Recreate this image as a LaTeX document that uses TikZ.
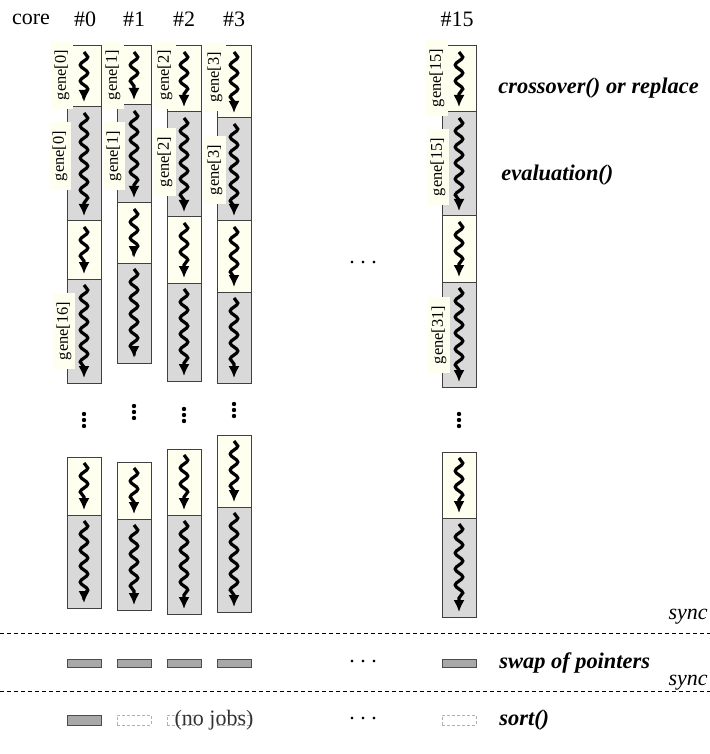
\documentclass[tikz,border=0pt]{standalone}
\usepackage{fontspec}
\setmainfont{Liberation Serif}
\usetikzlibrary{decorations.pathmorphing,arrows.meta}

\definecolor{creamfill}{HTML}{FFFFF0}
\definecolor{evalfill}{HTML}{D9D9D9}
\definecolor{swapfill}{HTML}{A8A8A8}
\definecolor{idleline}{HTML}{B0B0B0}

\tikzset{
  stagebox/.style={draw=black!75, line width=0.5pt, minimum width=17pt,
    inner sep=0pt, outer sep=0pt},
  breedbox/.style={stagebox, fill=creamfill},
  evalbox/.style={stagebox, fill=evalfill},
  wavy/.style={line width=1.6pt, -{Latex[length=6pt,width=5.6pt]}, decorate,
    decoration={snake, amplitude=1.9pt, segment length=8pt, post length=3.5pt}},
  genelabel/.style={rotate=90, fill=creamfill, inner xsep=4.5pt, inner ysep=2pt,
    font=\fontsize{8.2}{9}\selectfont},
  headtext/.style={font=\fontsize{11}{13}\selectfont, inner sep=0pt},
  steptext/.style={font=\fontsize{11.2}{13}\selectfont\bfseries\itshape,
    inner sep=0pt, anchor=west},
  synctext/.style={font=\fontsize{11}{13}\selectfont\itshape, inner sep=0pt, anchor=east},
  syncline/.style={line width=0.5pt, dash pattern=on 2pt off 1.5pt},
  swapbox/.style={draw=black!70, line width=0.5pt, fill=swapfill, minimum width=17pt,
    minimum height=4pt, inner sep=0pt},
  idlebox/.style={draw=idleline, line width=0.5pt, dash pattern=on 1.5pt off 1pt,
    minimum width=17pt, minimum height=5pt, inner sep=0pt},
  moredots/.style={font=\fontsize{11}{13}\selectfont, inner sep=0pt},
}

% one box of a core's time line with its wavy arrow:
% #1 name, #2 x centre, #3 y top, #4 y bottom, #5 style
\newcommand\stage[5]{%
  \pgfmathsetmacro\stmid{(#3+#4)/2}%
  \pgfmathsetmacro\sth{(#4-#3)*0.5}%
  \node[#5, minimum height=\sth pt] (#1) at (#2,\stmid) {};
  \draw[wavy] ([yshift=-3pt]#1.north) -- ([yshift=2.5pt]#1.south);
}
% three stacked dots centred at (#1,#2)
\newcommand\columndots[2]{%
  \foreach \dy in {-6,0,6} \fill (#1,#2+\dy) circle (1.1pt);
}

\begin{document}
\begin{tikzpicture}[x=0.5pt, y=-0.5pt]
\useasboundingbox (0,0) rectangle (710,754);

% column headers
\node[headtext] (hcore) at (31,19) {core};
\node[headtext] (h0) at (85,19) {\#0};
\node[headtext] (h1) at (134,19) {\#1};
\node[headtext] (h2) at (184,19) {\#2};
\node[headtext] (h3) at (234,19) {\#3};
\node[headtext] (h15) at (457,19) {\#15};

% core #0
\stage{c0a}{84}{46}{107}{breedbox}
\stage{c0b}{84}{107}{221}{evalbox}
\stage{c0c}{84}{221}{279}{breedbox}
\stage{c0d}{84}{279}{383}{evalbox}
\stage{c0e}{84}{457}{515}{breedbox}
\stage{c0f}{84}{515}{608}{evalbox}
% core #1
\stage{c1a}{134}{46}{105}{breedbox}
\stage{c1b}{134}{105}{203}{evalbox}
\stage{c1c}{134}{203}{263}{breedbox}
\stage{c1d}{134}{263}{363}{evalbox}
\stage{c1e}{134}{462}{519}{breedbox}
\stage{c1f}{134}{519}{610}{evalbox}
% core #2
\stage{c2a}{184}{46}{112}{breedbox}
\stage{c2b}{184}{112}{217}{evalbox}
\stage{c2c}{184}{217}{283}{breedbox}
\stage{c2d}{184}{283}{381}{evalbox}
\stage{c2e}{184}{449}{515}{breedbox}
\stage{c2f}{184}{515}{614}{evalbox}
% core #3
\stage{c3a}{234}{46}{118}{breedbox}
\stage{c3b}{234}{118}{221}{evalbox}
\stage{c3c}{234}{221}{292}{breedbox}
\stage{c3d}{234}{292}{383}{evalbox}
\stage{c3e}{234}{435}{507}{breedbox}
\stage{c3f}{234}{507}{612}{evalbox}
% core #15
\stage{c15a}{459}{46}{112}{breedbox}
\stage{c15b}{459}{112}{216}{evalbox}
\stage{c15c}{459}{216}{282}{breedbox}
\stage{c15d}{459}{282}{387}{evalbox}
\stage{c15e}{459}{452}{518}{breedbox}
\stage{c15f}{459}{518}{617}{evalbox}

% gene labels
\node[genelabel] (g0a) at (62,75) {gene[0]};
\node[genelabel] (g0b) at (60,156) {gene[0]};
\node[genelabel] (g0d) at (64,331) {gene[16]};
\node[genelabel] (g1a) at (113,75) {gene[1]};
\node[genelabel] (g1b) at (114,156) {gene[1]};
\node[genelabel] (g2a) at (165,75) {gene[2]};
\node[genelabel] (g2b) at (165,162) {gene[2]};
\node[genelabel] (g3a) at (215,77) {gene[3]};
\node[genelabel] (g3b) at (215,170) {gene[3]};
\node[genelabel] (g15a) at (437,78) {gene[15]};
\node[genelabel] (g15b) at (438,167) {gene[15]};
\node[genelabel] (g15d) at (439,335) {gene[31]};

% continuation dots
\columndots{84}{420}
\columndots{134}{412}
\columndots{184}{415}
\columndots{234}{410}
\columndots{459}{420}
\node[moredots] (hdots1) at (363,263) {.\ .\ .};

% stage names
\node[steptext] (lcross) at (498,88) {crossover() or replace};
\node[steptext] (leval) at (501,175) {evaluation()};

% first synchronisation
\node[synctext] (sync1) at (708,617) {sync};
\coordinate (s1w) at (0,633);
\coordinate (s1e) at (710,633);
\draw[syncline] (s1w) -- (s1e);

% swap of pointers
\node[swapbox] (sw0) at (84,663) {};
\node[swapbox] (sw1) at (134,663) {};
\node[swapbox] (sw2) at (184,663) {};
\node[swapbox] (sw3) at (234,663) {};
\node[swapbox] (sw15) at (459,663) {};
\node[moredots] (hdots2) at (363,662) {.\ .\ .};
\node[steptext] (lswap) at (499,663) {swap of pointers};

% second synchronisation
\node[synctext] (sync2) at (708,683) {sync};
\coordinate (s2w) at (0,691);
\coordinate (s2e) at (710,691);
\draw[syncline] (s2w) -- (s2e);

% sorting on core #0 only
\node[swapbox, minimum height=5pt] (so0) at (84,720) {};
\node[idlebox] (so1) at (134,720) {};
\node[idlebox] (so2) at (184,720) {};
\node[idlebox] (so3) at (234,720) {};
\node[idlebox] (so15) at (459,720) {};
\node[headtext, text=black!80] (nojobs) at (214,720) {(no jobs)};
\node[moredots] (hdots3) at (363,719) {.\ .\ .};
\node[steptext] (lsort) at (499,720) {sort()};
\end{tikzpicture}
\end{document}
